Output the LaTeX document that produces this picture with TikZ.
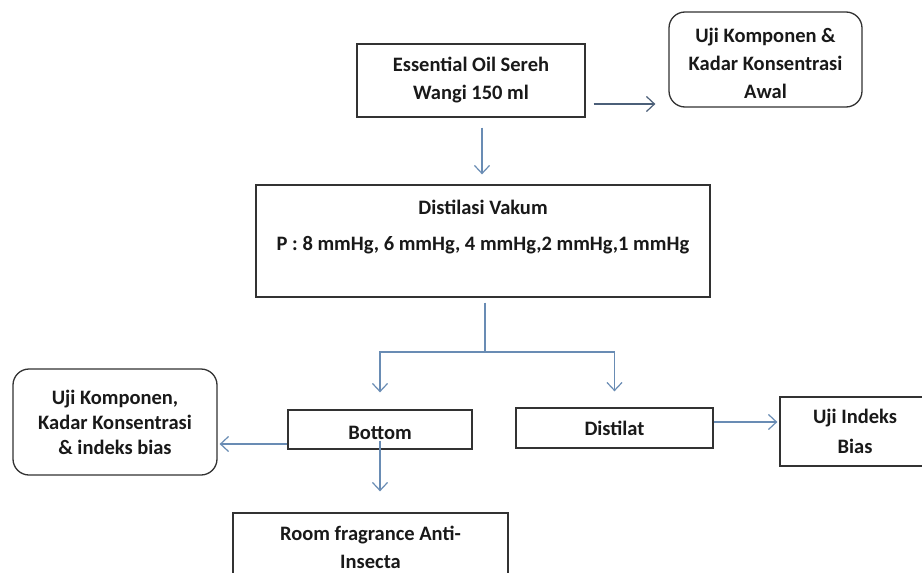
\documentclass[tikz,border=0pt]{standalone}
\usepackage{fontspec}
\setmainfont{Carlito}
\usetikzlibrary{arrows.meta}
\definecolor{boxline}{RGB}{50,50,50}
\definecolor{arrblue}{RGB}{105,140,180}
\definecolor{arrdark}{RGB}{75,95,120}
\definecolor{txt}{RGB}{25,25,25}
\tikzset{
  every node/.style={font={\bfseries\fontsize{20.5}{28}\selectfont}, text=txt, align=center, inner sep=0pt},
  boxsq/.style={draw=boxline, line width=1.3pt, rectangle},
  boxrd/.style={draw=boxline, line width=1.3pt, rectangle, rounded corners=16pt},
  arr/.style={draw=arrblue, line width=1.2pt, -{Straight Barb[length=8pt,width=15pt,line width=1.2pt]}},
  lin/.style={draw=arrblue, line width=1.2pt},
}
\begin{document}
\begin{tikzpicture}[x=1pt,y=-1pt]
\useasboundingbox (0,0) rectangle (922,573);
\fill[white] (0,0) rectangle (922,573);
\node[boxsq, minimum width=228pt, minimum height=73pt] (oil) at (471,80.5) {Essential Oil Sereh\\Wangi 150 ml};
\node[boxrd, minimum width=193pt, minimum height=95pt] (awal) at (765.5,59.5) {\rule{0pt}{22pt}Uji Komponen \&\\Kadar Konsentrasi\\Awal};
\node[boxsq, minimum width=454pt, minimum height=112pt] (vak) at (483,241) {Distilasi Vakum\\[8pt]P : 8 mmHg, 6 mmHg, 4 mmHg,2 mmHg,1 mmHg\\[4pt]\mbox{}};
\node[boxsq, minimum width=184pt, minimum height=39pt] (bottom) at (380,429.5) {\rule{0pt}{20pt}Bottom};
\node[boxsq, minimum width=197pt, minimum height=40pt] (distilat) at (614.5,428) {Distilat};
\node[boxsq, minimum width=150pt, minimum height=69pt] (uji) at (855,431.5) {Uji Indeks\\[2pt]Bias};
\node[boxrd, minimum width=204pt, minimum height=106pt, font={\bfseries\fontsize{20.5}{25}\selectfont}] (left) at (115,422) {Uji Komponen,\\Kadar Konsentrasi\\\& indeks bias};
\node[boxsq, minimum width=275pt, minimum height=69pt] (room) at (370.5,547.5) {Room fragrance Anti-\\Insecta};
\coordinate (j) at (485,352);
\draw[arr, draw=arrdark, shorten <=8pt, shorten >=13pt] (oil.east |- 0,104) -- (awal.west |- 0,104);
\draw[arr, shorten <=10pt, shorten >=10pt] (oil.south -| 482,0) -- (vak.north -| 482,0);
\draw[lin, shorten <=5pt] (vak.south -| j) -- (j);
\draw[arr, shorten >=17pt] (j) -| (bottom.north);
\draw[arr, shorten >=16pt] (j) -| (distilat.north);
\draw[arr, shorten >=2pt] (bottom.west |- 0,444) -- (left.east |- 0,444);
\draw[arr, shorten >=2pt] (distilat.east |- 0,422) -- (uji.west |- 0,422);
\draw[arr, shorten >=21pt] ([yshift=9pt]bottom.south) -- (bottom.south |- room.north);
\end{tikzpicture}
\end{document}
